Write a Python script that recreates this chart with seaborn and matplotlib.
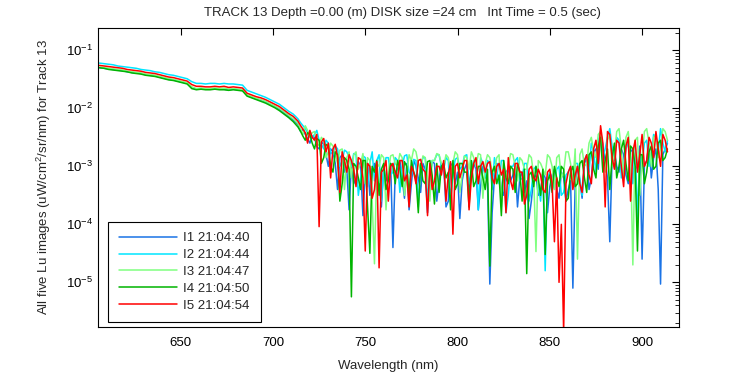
import numpy as np
import pandas as pd
import matplotlib
matplotlib.use("Agg")
import matplotlib.pyplot as plt
import seaborn as sns

# ---------------- data (log10 of Lu) ----------------
wl_smooth = np.arange(606.0, 714.0, 2.5)     # 606 ... 713.5 nm, 44 samples
wl_noisy = np.arange(715.0, 914.5, 1.25)     # 715 ... 913.75 nm, 160 samples
wavelength = np.concatenate([wl_smooth, wl_noisy])

series_labels = ["I1 21:04:40", "I2 21:04:44", "I3 21:04:47", "I4 21:04:50", "I5 21:04:54"]
series_colors = ["#1a73e6", "#00e6ff", "#80ff80", "#00b400", "#ff0000"]

i1_smooth = [-1.30,-1.31,-1.32,-1.33,-1.34,-1.35,-1.37,-1.38,-1.39,-1.40,-1.42,-1.43,-1.44,-1.46,-1.48,-1.50,-1.51,-1.53,-1.55,-1.57,-1.64,-1.67,-1.66,-1.67,-1.67,-1.66,-1.67,-1.67,-1.68,-1.67,-1.68,-1.69,-1.78,-1.81,-1.84,-1.86,-1.89,-1.93,-1.97,-2.02,-2.08,-2.14,-2.20,-2.28]
i2_smooth = [-1.22,-1.23,-1.24,-1.25,-1.27,-1.28,-1.29,-1.30,-1.31,-1.33,-1.34,-1.35,-1.37,-1.38,-1.40,-1.42,-1.43,-1.45,-1.47,-1.49,-1.54,-1.57,-1.57,-1.58,-1.57,-1.57,-1.58,-1.57,-1.58,-1.58,-1.59,-1.60,-1.69,-1.72,-1.75,-1.78,-1.81,-1.85,-1.89,-1.93,-1.99,-2.05,-2.10,-2.18]
i3_smooth = [-1.29,-1.30,-1.31,-1.32,-1.33,-1.34,-1.36,-1.37,-1.38,-1.39,-1.41,-1.42,-1.43,-1.45,-1.47,-1.49,-1.50,-1.52,-1.54,-1.56,-1.63,-1.66,-1.65,-1.66,-1.66,-1.65,-1.66,-1.65,-1.67,-1.66,-1.67,-1.68,-1.77,-1.80,-1.83,-1.85,-1.88,-1.92,-1.96,-2.00,-2.06,-2.12,-2.18,-2.26]
i4_smooth = [-1.30,-1.31,-1.33,-1.34,-1.35,-1.36,-1.37,-1.39,-1.40,-1.41,-1.43,-1.44,-1.45,-1.47,-1.49,-1.51,-1.52,-1.54,-1.56,-1.58,-1.66,-1.68,-1.67,-1.68,-1.68,-1.67,-1.68,-1.68,-1.69,-1.68,-1.69,-1.70,-1.79,-1.82,-1.85,-1.88,-1.91,-1.95,-1.99,-2.04,-2.10,-2.16,-2.23,-2.32]
i5_smooth = [-1.26,-1.27,-1.28,-1.29,-1.30,-1.31,-1.33,-1.34,-1.35,-1.36,-1.38,-1.39,-1.40,-1.42,-1.44,-1.46,-1.47,-1.49,-1.51,-1.53,-1.59,-1.62,-1.62,-1.63,-1.63,-1.62,-1.63,-1.62,-1.64,-1.63,-1.64,-1.65,-1.74,-1.77,-1.80,-1.82,-1.85,-1.89,-1.93,-1.97,-2.03,-2.09,-2.14,-2.22]

i1_noisy = [
    -2.40,-2.36,-2.45,-2.52,-2.60,-2.48,-2.50,-2.66,-2.70,-2.58,-2.62,-2.80,-3.00,-2.70,-2.75,-2.95,-3.40,-2.85,-2.80,-3.10,
    -3.05,-3.75,-2.95,-3.30,-3.20,-2.92,-3.00,-3.85,-3.10,-2.95,-3.50,-3.05,-2.95,-3.40,-3.30,-3.70,-3.00,-3.25,-3.15,-2.95,
    -4.40,-3.10,-3.05,-2.90,-3.20,-3.55,-2.95,-3.75,-3.30,-2.90,-3.00,-3.20,-3.45,-2.95,-3.05,-3.80,-3.15,-2.92,-2.95,-3.60,
    -3.25,-2.95,-3.00,-3.70,-3.60,-2.95,-3.00,-3.30,-3.10,-3.90,-3.25,-3.05,-2.95,-3.45,-3.15,-2.95,-3.05,-3.75,-3.35,-3.00,
    -3.10,-3.30,-5.03,-3.80,-3.20,-2.95,-3.00,-3.40,-3.50,-3.10,-3.05,-3.25,-3.15,-3.00,-3.70,-3.20,-3.10,-3.45,-3.25,-3.90,
    -3.60,-3.20,-3.15,-3.50,-3.45,-3.10,-3.20,-3.80,-3.35,-3.15,-3.05,-3.40,-3.55,-3.10,-3.20,-3.60,-3.40,-3.25,-5.10,-3.30,
    -3.00,-3.25,-3.55,-2.95,-2.85,-3.40,-3.20,-2.75,-2.70,-3.05,-2.40,-2.65,-2.90,-3.20,-4.30,-2.85,-2.75,-3.00,-3.10,-2.70,
    -2.80,-3.15,-3.30,-2.75,-2.70,-3.05,-3.00,-2.65,-4.60,-3.00,-2.90,-2.60,-3.20,-2.85,-2.70,-3.40,-5.03,-2.80,-2.70,-2.60]
i2_noisy = [
    -2.25,-2.30,-2.35,-2.42,-2.40,-2.50,-2.45,-2.38,-2.55,-2.62,-2.70,-2.55,-2.60,-2.75,-2.80,-2.65,-2.70,-3.00,-2.90,-2.72,
    -2.75,-2.85,-3.00,-2.78,-2.80,-3.50,-3.20,-2.82,-2.85,-3.35,-2.95,-2.75,-3.25,-2.90,-2.80,-3.60,-3.05,-2.85,-2.85,-3.15,
    -3.10,-2.85,-2.90,-3.45,-3.00,-2.82,-2.80,-3.10,-3.15,-2.88,-2.90,-3.70,-3.00,-2.85,-2.85,-3.55,-3.20,-2.90,-2.90,-2.80,
    -2.80,-3.00,-3.05,-2.85,-2.90,-3.60,-3.10,-2.88,-2.85,-3.05,-3.00,-2.82,-2.80,-3.30,-3.10,-2.90,-2.90,-3.75,-2.85,-2.95,
    -3.20,-2.90,-2.95,-3.40,-2.85,-3.05,-3.30,-2.90,-2.90,-3.80,-3.50,-3.00,-3.00,-2.90,-2.85,-3.25,-3.20,-2.95,-2.95,-3.60,
    -3.40,-3.05,-3.00,-3.30,-3.60,-3.10,-4.80,-3.20,-3.10,-3.40,-3.30,-3.05,-3.00,-3.50,-3.45,-3.15,-3.10,-3.00,-3.35,-2.95,
    -2.95,-3.20,-3.50,-2.90,-2.80,-3.10,-2.60,-2.75,-3.10,-2.55,-2.45,-2.85,-2.70,-2.50,-2.35,-2.65,-2.90,-2.50,-2.55,-3.20,
    -3.00,-2.70,-2.60,-2.85,-3.30,-2.65,-3.90,-2.80,-2.95,-2.60,-2.55,-3.00,-2.80,-2.45,-2.50,-2.75,-2.35,-2.60,-2.75,-2.55]
i3_noisy = [
    -2.35,-2.45,-2.30,-2.38,-2.50,-2.42,-2.40,-2.60,-2.65,-2.50,-2.55,-2.85,-2.75,-2.60,-2.65,-2.80,-2.95,-2.72,-2.70,-3.40,
    -2.85,-2.75,-3.20,-2.80,-2.75,-3.05,-2.95,-2.78,-3.30,-2.85,-2.90,-3.60,-4.68,-2.95,-3.00,-2.80,-2.85,-3.75,-3.10,-2.82,
    -2.80,-2.95,-3.00,-2.78,-2.85,-3.50,-3.15,-2.80,-2.90,-2.70,-2.75,-2.95,-3.05,-2.82,-2.85,-3.20,-3.60,-2.90,-2.90,-2.78,
    -2.80,-2.95,-3.00,-2.80,-2.85,-3.10,-2.95,-2.75,-2.80,-3.45,-3.15,-2.82,-2.85,-3.05,-2.75,-2.85,-3.00,-2.78,-2.80,-3.55,
    -2.95,-2.80,-2.85,-3.10,-3.10,-2.85,-2.80,-3.70,-2.95,-3.20,-3.00,-2.78,-2.80,-3.00,-3.25,-2.85,-2.90,-3.05,-3.05,-2.80,
    -2.85,-3.15,-4.47,-2.90,-2.95,-3.05,-3.15,-2.80,-2.85,-3.00,-3.40,-2.85,-2.80,-3.20,-3.10,-2.75,-2.75,-2.95,-3.30,-2.70,
    -4.60,-2.80,-2.70,-3.00,-2.95,-2.60,-2.50,-2.75,-2.85,-2.45,-2.40,-2.90,-3.10,-2.55,-2.45,-3.00,-2.80,-2.40,-2.35,-2.70,
    -3.20,-2.50,-2.40,-2.80,-4.70,-2.55,-2.50,-3.50,-2.85,-2.40,-2.35,-2.60,-3.00,-2.50,-2.45,-2.85,-2.70,-2.35,-2.40,-2.55]
i4_noisy = [
    -2.40,-2.48,-2.55,-2.42,-2.45,-2.60,-2.70,-2.52,-2.55,-2.95,-2.85,-2.62,-2.65,-3.00,-3.10,-2.75,-2.80,-3.60,-3.30,-2.85,
    -2.90,-3.05,-5.25,-2.95,-3.00,-3.20,-3.40,-2.90,-2.90,-3.70,-4.50,-3.00,-3.10,-2.90,-3.50,-3.05,-2.95,-3.40,-3.25,-2.95,
    -3.00,-3.30,-2.90,-3.05,-3.35,-2.92,-3.00,-3.50,-2.90,-3.10,-3.20,-3.80,-2.95,-3.25,-3.30,-2.92,-2.90,-3.15,-3.65,-2.95,
    -3.45,-3.00,-2.95,-3.20,-3.10,-3.75,-2.90,-3.40,-3.30,-2.95,-2.95,-3.10,-3.10,-3.70,-2.90,-3.35,-3.25,-3.00,-3.00,-3.20,
    -3.40,-3.05,-4.72,-3.10,-3.00,-3.30,-3.15,-3.85,-2.90,-3.20,-3.30,-3.00,-3.05,-3.45,-2.95,-3.10,-3.60,-3.05,-4.85,-3.15,
    -3.10,-3.35,-3.00,-3.20,-3.50,-3.05,-4.52,-3.25,-3.15,-3.45,-3.00,-3.20,-3.35,-3.00,-3.05,-3.60,-3.55,-3.10,-3.00,-3.35,
    -3.30,-2.95,-2.90,-3.20,-3.45,-2.80,-2.75,-3.05,-3.20,-2.65,-2.50,-3.10,-2.90,-2.70,-3.40,-2.85,-2.60,-3.20,-3.00,-2.70,
    -2.55,-2.95,-3.25,-2.65,-2.70,-3.00,-4.46,-2.80,-2.80,-3.30,-3.10,-2.75,-2.65,-3.05,-3.00,-2.60,-2.55,-2.90,-2.85,-2.70]
i5_noisy = [
    -2.30,-2.36,-2.42,-2.60,-2.38,-2.50,-2.55,-2.45,-4.04,-2.58,-2.52,-2.75,-2.60,-3.20,-2.70,-2.62,-2.85,-3.45,-2.75,-2.90,
    -3.10,-2.80,-2.90,-3.05,-3.35,-2.85,-2.88,-3.20,-4.46,-2.95,-3.00,-3.55,-3.40,-2.92,-4.75,-3.10,-3.05,-2.90,-3.60,-3.00,
    -2.95,-3.10,-3.20,-2.90,-2.90,-3.25,-3.15,-3.70,-3.00,-3.10,-3.30,-2.90,-2.88,-3.05,-3.10,-3.85,-2.95,-3.40,-3.25,-3.00,
    -3.00,-3.15,-2.90,-3.60,-3.15,-2.92,-4.17,-3.00,-2.95,-3.20,-3.05,-2.90,-2.90,-3.75,-3.20,-2.95,-2.85,-3.30,-3.00,-2.92,
    -3.10,-2.95,-2.92,-3.20,-3.30,-3.00,-2.95,-3.15,-3.05,-3.80,-2.85,-3.25,-3.40,-2.95,-2.95,-3.10,-3.10,-3.65,-3.50,-3.05,
    -3.00,-3.20,-3.25,-3.05,-3.15,-3.40,-3.45,-3.10,-3.05,-3.30,-4.30,-3.20,-5.00,-4.00,-5.85,-3.30,-3.10,-3.00,-3.40,-3.15,
    -3.00,-3.30,-3.45,-2.90,-2.80,-3.15,-3.30,-2.70,-2.55,-2.95,-2.30,-2.60,-3.70,-2.40,-2.45,-2.85,-3.05,-2.55,-2.60,-3.00,
    -3.35,-2.65,-2.50,-3.60,-2.75,-2.55,-3.10,-2.80,-2.45,-3.00,-2.90,-2.50,-2.60,-2.85,-2.40,-2.70,-3.00,-2.45,-2.55,-2.75]

log_values = [i1_smooth + i1_noisy, i2_smooth + i2_noisy, i3_smooth + i3_noisy,
              i4_smooth + i4_noisy, i5_smooth + i5_noisy]

x_ticks = [650, 700, 750, 800, 850, 900]

# ---------------- long-form table ----------------
frames = []
for lab, vals in zip(series_labels, log_values):
    frames.append(pd.DataFrame({"wavelength": wavelength,
                                "Lu": 10.0 ** np.asarray(vals),
                                "series": lab}))
df = pd.concat(frames, ignore_index=True)

# ---------------- style ----------------
sns.set_style("white")
plt.rcParams["font.family"] = ["Liberation Sans", "DejaVu Sans"]
plt.rcParams["mathtext.fontset"] = "custom"
plt.rcParams["mathtext.rm"] = "Liberation Sans"
plt.rcParams["mathtext.it"] = "Liberation Sans"
plt.rcParams["font.size"] = 9.5

fig = plt.figure(figsize=(7.5, 3.75), dpi=100)
ax = fig.add_axes([98 / 750, 1 - 327 / 375, (679 - 98) / 750, (327 - 28) / 375])

sns.lineplot(data=df, x="wavelength", y="Lu", hue="series",
             hue_order=series_labels, palette=dict(zip(series_labels, series_colors)),
             estimator=None, sort=False, legend=False, linewidth=1.1, ax=ax)

ax.set_yscale("log")
ax.set_xlim(605.2, 920.0)
ax.set_ylim(10 ** -5.77, 10 ** -0.615)
ax.set_xticks(x_ticks)
ax.set_xticklabels([str(t) for t in x_ticks])
ax.set_yticks([1e-5, 1e-4, 1e-3, 1e-2, 1e-1])
ax.yaxis.set_major_formatter(matplotlib.ticker.LogFormatterMathtext())
ax.yaxis.set_minor_locator(matplotlib.ticker.LogLocator(base=10, subs=np.arange(2, 10), numticks=20))
ax.yaxis.set_minor_formatter(matplotlib.ticker.NullFormatter())

ax.tick_params(axis="both", which="both", direction="in", top=True, right=True,
               labelsize=9.5, colors="black")
ax.tick_params(axis="both", which="major", length=5, width=0.8)
ax.tick_params(axis="x", which="major", pad=7)
ax.tick_params(axis="y", which="minor", length=3, width=0.6)
ax.tick_params(axis="x", which="minor", length=0)
for sp in ax.spines.values():
    sp.set_color("black")
    sp.set_linewidth(0.8)

ax.set_xlabel("Wavelength (nm)", fontsize=9.5, labelpad=8)
ax.set_ylabel("All five Lu images (uW/cm$^2$/sr/nm) for Track 13", fontsize=9.5, labelpad=9)
fig.text(402 / 750, 1 - 13 / 375,
         "TRACK 13 Depth =0.00 (m) DISK size =24 cm   Int Time = 0.5 (sec)",
         ha="center", va="center", fontsize=9.5)

handles = ax.get_lines()[:5]
leg = ax.legend(handles, series_labels, loc="lower left",
                bbox_to_anchor=(0.0177, 0.0157), borderaxespad=0,
                fontsize=9.5, frameon=True, fancybox=False, framealpha=1,
                edgecolor="black", handlelength=4.4, handletextpad=0.5,
                labelspacing=0.35, borderpad=0.8)
leg.get_frame().set_linewidth(0.8)
for h in leg.legend_handles:
    h.set_linewidth(1.1)

fig.savefig("out.png", dpi=100)
